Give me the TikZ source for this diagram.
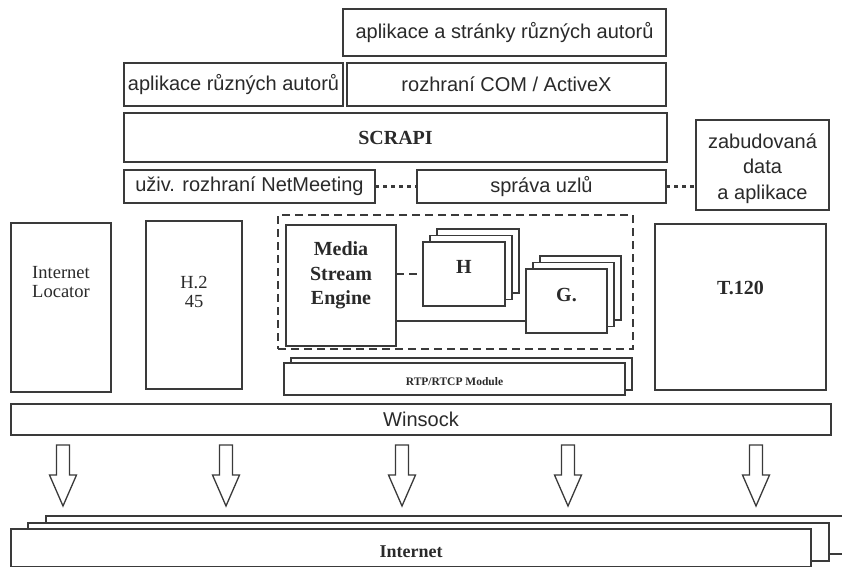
\documentclass[tikz,border=0pt]{standalone}
\usepackage{fontspec}
\setmainfont{Liberation Serif}
\newfontfamily\arialf{Liberation Sans}
\definecolor{linec}{HTML}{3A3A3A}
\definecolor{textc}{HTML}{2A2A2A}
\tikzset{
  box/.style={draw=linec, line width=1.4pt, inner sep=0pt, outer sep=0pt, fill=white, text=textc},
  sz/.style 2 args={minimum width=#1pt, minimum height=#2pt},
  txt/.style={inner sep=0pt, text=textc, align=center},
  sanslbl/.style={font=\arialf\fontsize{20}{25.5}\selectfont},
  serifb/.style={font=\bfseries\fontsize{20}{24.5}\selectfont},
  serifr/.style={font=\fontsize{18.5}{19}\selectfont},
  dotline/.style={draw=linec, line width=3pt, dash pattern=on 4pt off 4pt},
  dashline/.style={draw=linec, line width=1.4pt, dash pattern=on 8pt off 5pt},
  solidline/.style={draw=linec, line width=1.4pt},
  blockarrow/.style={draw=linec, line width=1.3pt, fill=white, line join=miter}
}
\begin{document}
\begin{tikzpicture}[x=1pt,y=-1pt]
\useasboundingbox[fill=white] (0,0) rectangle (842,566);

% top application layers
\node[box, sz={323}{47}, sanslbl] (top) at (504.5,32.5) {aplikace a stránky různých autorů};
\node[box, sz={219}{43}, sanslbl] (appl) at (233.5,84.5) {aplikace různých autorů};
\node[box, sz={319}{43}, sanslbl] (com) at (506.5,84.5) {rozhraní COM / ActiveX};
\node[box, sz={543}{49}, serifb] (scrapi) at (395.5,137.5) {SCRAPI};
\node[box, sz={251}{33}, sanslbl] (ui) at (249.5,186.5) {uživ. rozhraní NetMeeting};
\node[box, sz={249}{33}, sanslbl] (sprava) at (541.5,186.5) {správa uzlů};
\node[box, sz={133}{90}] (zab) at (762.5,165) {};
\node[txt, sanslbl] (zabt) at ([yshift=-3.5pt]zab.center) {zabudovaná\\data\\a aplikace};

\draw[dotline] (ui.east) -- (sprava.west);
\draw[dotline] (sprava.east) -- (sprava.east -| zab.west);

% middle components
\node[box, sz={100}{169}] (il) at (61,307.5) {};
\node[txt, serifr] (ilt) at ([yshift=25pt]il.center) {Internet\\Locator};
\node[box, sz={96}{168}] (h245) at (194,305) {};
\node[txt, serifr] (h245t) at ([yshift=13.5pt]h245.center) {H.2\\45};

\node[draw=linec, line width=1.4pt, dash pattern=on 8pt off 5pt, sz={355}{134}, inner sep=0pt] (dbox) at (455.5,282) {};

\node[box, sz={110}{121}] (mse) at (341,285.5) {};
\node[txt, serifb] (mset) at ([yshift=10pt]mse.center) {Media\\Stream\\Engine};

\node[box, sz={82}{64}] (h3) at (478,261) {};
\node[box, sz={82}{64}] (h2) at (471,267.5) {};
\node[box, sz={82}{64}] (hf) at (464,274) {};
\node[txt, serifb] (hft) at ([yshift=7pt]hf.center) {H};

\node[box, sz={81}{64}] (g3) at (580.5,288) {};
\node[box, sz={81}{64}] (g2) at (573.5,294.5) {};
\node[box, sz={81}{64}] (gf) at (566.5,301) {};
\node[txt, serifb] (gft) at ([yshift=6pt]gf.center) {G.};

\draw[dashline] (hf.west -| mse.east) -- (hf.west);
\draw[solidline] ([yshift=-20pt]gf.west -| mse.east) -- ([yshift=-20pt]gf.west);

\node[box, sz={341}{32}] (rtp2) at (461.5,374) {};
\node[box, sz={341}{32}] (rtp) at (454.5,379) {};
\node[txt, font=\bfseries\fontsize{11.5}{13}\selectfont] (rtpt) at ([yshift=-3pt]rtp.center) {RTP/RTCP Module};

\node[box, sz={171}{166}] (t120) at (740.5,307) {};
\node[txt, serifb] (t120t) at ([yshift=19pt]t120.center) {T.120};

% Winsock
\node[box, sz={820}{31}, sanslbl] (winsock) at (421,419.5) {Winsock};

% block arrows
\foreach \cx in {63,226,402,568,756}{
  \draw[blockarrow] (\cx-6.5,445) -- (\cx+6.5,445) -- (\cx+6.5,475) -- (\cx+13.5,475)
     -- (\cx,506) -- (\cx-13.5,475) -- (\cx-6.5,475) -- cycle;
}

% Internet stack
\node[box, sz={814}{38}] (net3) at (453,535) {};
\node[box, sz={801}{38}] (net2) at (428.5,542) {};
\node[box, sz={800}{38}] (net) at (411,548) {};
\node[txt, font=\bfseries\fontsize{18}{20}\selectfont] (nett) at ([yshift=-4pt]net.center) {Internet};
\end{tikzpicture}
\end{document}
